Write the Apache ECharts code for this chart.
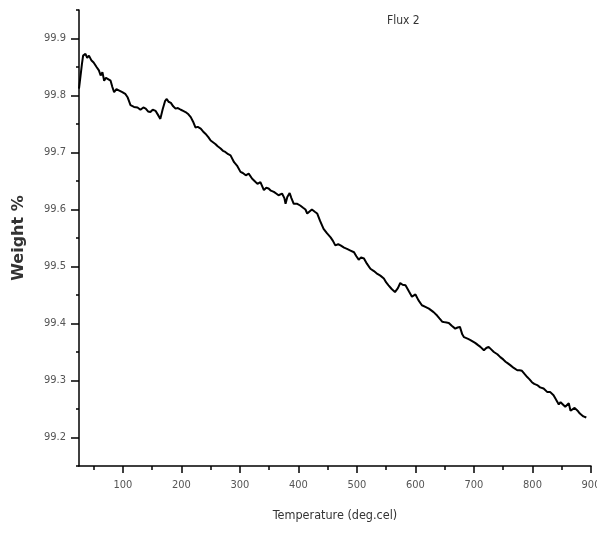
<!DOCTYPE html>
<html>
<head>
<meta charset="utf-8">
<script src="https://cdn.jsdelivr.net/npm/echarts@6/dist/echarts.min.js"></script>
<style>
html,body{margin:0;padding:0;background:#fff;overflow:hidden;}
#chart{width:597px;height:533px;}
</style>
</head>
<body>
<div id="chart"></div>
<script>
var temperature = [25,27,30,32,36,39,42,46,50,55,59,62,65,68,71,73,79,82,85,89,93,99,104,108,113,116,119,122,125,130,135,139,143,147,151,156,160,164,168,172,175,178,182,186,190,194,199,203,207,212,216,220,224,228,233,237,241,246,250,254,258,262,267,271,275,280,284,287,290,295,301,305,310,315,321,325,330,335,341,345,349,353,358,362,366,372,376,378,381,385,388,392,398,403,408,412,415,418,423,428,432,437,443,449,455,459,463,468,472,478,483,489,495,499,503,507,512,517,523,529,535,540,546,550,554,559,565,570,574,578,583,589,594,600,605,611,617,623,627,631,637,641,646,651,657,662,668,672,676,680,683,690,694,697,702,707,711,717,721,725,729,734,740,745,750,754,758,762,768,774,778,782,786,791,795,799,803,808,813,819,825,830,836,839,845,848,851,856,862,865,868,872,875,878,881,884,887,892];
var weight = [99.812,99.829,99.855,99.870,99.873,99.866,99.870,99.862,99.858,99.850,99.844,99.835,99.841,99.826,99.831,99.829,99.826,99.815,99.806,99.811,99.809,99.806,99.803,99.797,99.783,99.784,99.780,99.782,99.779,99.775,99.779,99.777,99.772,99.771,99.775,99.773,99.766,99.759,99.776,99.790,99.794,99.789,99.787,99.781,99.777,99.778,99.775,99.773,99.771,99.767,99.762,99.754,99.744,99.745,99.742,99.737,99.733,99.727,99.721,99.718,99.715,99.711,99.707,99.703,99.701,99.697,99.695,99.698,99.683,99.677,99.666,99.664,99.660,99.663,99.654,99.650,99.645,99.648,99.634,99.638,99.637,99.633,99.631,99.628,99.625,99.628,99.620,99.610,99.622,99.629,99.620,99.610,99.610,99.607,99.603,99.600,99.593,99.596,99.600,99.596,99.593,99.580,99.566,99.558,99.551,99.545,99.537,99.539,99.537,99.533,99.531,99.528,99.525,99.518,99.512,99.516,99.514,99.505,99.496,99.492,99.487,99.484,99.479,99.472,99.467,99.461,99.455,99.462,99.471,99.468,99.467,99.456,99.447,99.451,99.441,99.432,99.429,99.426,99.423,99.420,99.414,99.409,99.403,99.402,99.401,99.396,99.391,99.393,99.394,99.381,99.376,99.373,99.371,99.368,99.366,99.362,99.359,99.353,99.357,99.359,99.355,99.350,99.346,99.341,99.337,99.333,99.330,99.327,99.322,99.318,99.318,99.317,99.312,99.306,99.302,99.297,99.294,99.292,99.288,99.286,99.280,99.280,99.274,99.272,99.258,99.262,99.265,99.254,99.260,99.247,99.245,99.252,99.255,99.246,99.242,99.239,99.237,99.235];

var xMajorTicks = [100,200,300,400,500,600,700,800,900];
var xMinorTicks = [50,150,250,350,450,550,650,750,850];
var yMajorTicks = [99.2,99.3,99.4,99.5,99.6,99.7,99.8,99.9];
var yMinorTicks = [99.15,99.25,99.35,99.45,99.55,99.65,99.75,99.85,99.95];

var chartTitle = 'Flux 2';
var xName = 'Temperature (deg.cel)';
var yName = 'Weight %';

var narrow = '"Liberation Sans Narrow", "Arial Narrow", "DejaVu Sans Condensed", "Roboto Condensed", Roboto, sans-serif';
var chart = echarts.init(document.getElementById('chart'), null, {renderer: 'canvas'});

var pts = temperature.map(function (t, i) { return [t, weight[i]]; });

var X_MIN = 25, X_MAX = 900, Y_MIN = 99.15, Y_MAX = 99.95;

chart.setOption({
  animation: false,
  backgroundColor: '#ffffff',
  title: {
    text: chartTitle,
    left: 382, top: 10,
    textStyle: {fontFamily: narrow, fontSize: 12, fontWeight: 'normal', color: '#333'}
  },
  grid: {left: 79, right: 6, top: 10, bottom: 67, containLabel: false, outerBoundsMode: 'none'},
  xAxis: [{
    type: 'value', min: X_MIN, max: X_MAX, position: 'bottom',
    name: xName, nameLocation: 'middle', nameGap: 43,
    nameTextStyle: {fontFamily: narrow, fontSize: 12.5, color: '#333'},
    axisLine: {show: true, onZero: false, lineStyle: {color: '#000', width: 1.5}},
    axisTick: {show: true, customValues: xMajorTicks, length: 7, inside: false, lineStyle: {color: '#000', width: 1.5}},
    axisLabel: {show: true, customValues: xMajorTicks, margin: 14, fontFamily: narrow, fontSize: 11, color: '#555'},
    splitLine: {show: false}
  }, {
    type: 'value', min: X_MIN, max: X_MAX, position: 'bottom',
    axisLine: {show: false},
    axisTick: {show: true, customValues: xMinorTicks, length: 4, lineStyle: {color: '#000', width: 1.5}},
    axisLabel: {show: false},
    splitLine: {show: false}
  }],
  yAxis: [{
    type: 'value', min: Y_MIN, max: Y_MAX, position: 'left',
    name: yName, nameLocation: 'middle', nameGap: 52, nameRotate: 90,
    nameTextStyle: {fontFamily: '"DejaVu Sans", sans-serif', fontSize: 16, fontWeight: 'bold', color: '#333'},
    axisLine: {show: true, onZero: false, lineStyle: {color: '#000', width: 1.5}},
    axisTick: {show: true, customValues: yMajorTicks, length: 8, lineStyle: {color: '#000', width: 1.5}},
    axisLabel: {show: true, customValues: yMajorTicks, margin: 13, fontFamily: narrow, fontSize: 11, color: '#555',
      formatter: function (v) { return v.toFixed(1); }},
    splitLine: {show: false}
  }, {
    type: 'value', min: Y_MIN, max: Y_MAX, position: 'left',
    axisLine: {show: false},
    axisTick: {show: true, customValues: yMinorTicks, length: 3, lineStyle: {color: '#000', width: 1.5}},
    axisLabel: {show: false},
    splitLine: {show: false}
  }],
  series: [{
    type: 'line',
    xAxisIndex: 0, yAxisIndex: 0,
    data: pts,
    showSymbol: false,
    symbol: 'none',
    lineStyle: {color: '#000', width: 2},
    clip: true
  }]
});
</script>
</body>
</html>
